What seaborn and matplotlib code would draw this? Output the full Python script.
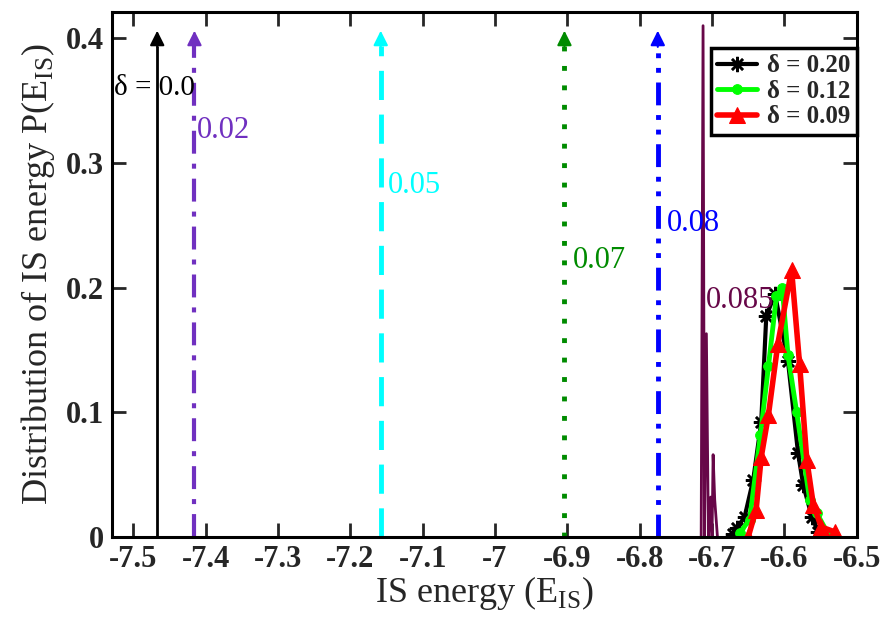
"""IS energy distributions for several delta values"""
import matplotlib
matplotlib.use("Agg")
import matplotlib.pyplot as plt
import seaborn as sns

# peak distributions
x_020 = [-6.671, -6.666, -6.655, -6.643, -6.632, -6.625, -6.613, -6.595, -6.581, -6.574, -6.562, -6.553]
y_020 = [0.002, 0.007, 0.016, 0.046, 0.092, 0.177, 0.195, 0.141, 0.067, 0.042, 0.016, 0.004]

x_012 = [-6.662, -6.648, -6.633, -6.622, -6.611, -6.603, -6.595, -6.583, -6.565, -6.555, -6.539, -6.534]
y_012 = [0.003, 0.014, 0.082, 0.137, 0.193, 0.200, 0.146, 0.100, 0.030, 0.019, 0.002, 0.0]

x_009 = [-6.650, -6.639, -6.632, -6.622, -6.609, -6.590, -6.579, -6.569, -6.560, -6.549, -6.530]
y_009 = [0.0, 0.022, 0.064, 0.098, 0.155, 0.214, 0.139, 0.062, 0.026, 0.008, 0.004]

# delta = 0.085 : narrow spikes
x_0085 = [-6.7150, -6.7124, -6.7105, -6.7078, -6.7050, -6.7018, -6.7000, -6.6985, -6.6963, -6.6925]
y_0085 = [0.0, 0.410, 0.0, 0.163, 0.0, 0.032, 0.0, 0.066, 0.030, 0.0]

# arrows for the sharp (delta-like) distributions
arrow_pos = [-7.467, -7.4155, -7.158, -6.904, -6.775]
arrow_top = 0.406
arrow_colors = ["black", "#7030c0", "#00ffff", "#008b00", "#0000ff"]
arrow_styles = ["-", (0, (5.5, 2.4, 1.2, 2.4)), (0, (6, 3)), (0, (1, 3)),
                (0, (4.7, 2, 1, 2, 1, 2))]
arrow_widths = [2.0, 3.0, 3.5, 3.5, 3.5]

label_text = ["δ = 0.0", "0.02", "0.05", "0.07", "0.08", "0.085"]
label_x = [-7.527, -7.412, -7.148, -6.892, -6.762, -6.708]
label_y = [0.360, 0.326, 0.282, 0.222, 0.251, 0.190]
label_colors = ["black", "#7030c0", "#00ffff", "#008b00", "#0000ff", "#670748"]

xticks = [-7.5, -7.4, -7.3, -7.2, -7.1, -7.0, -6.9, -6.8, -6.7, -6.6, -6.5]
xtick_labels = ["-7.5", "-7.4", "-7.3", "-7.2", "-7.1", "-7", "-6.9", "-6.8", "-6.7", "-6.6", "-6.5"]
yticks = [0, 0.1, 0.2, 0.3, 0.4]
ytick_labels = ["0", "0.1", "0.2", "0.3", "0.4"]

sns.set_style("white")
plt.rcParams["font.family"] = ["Liberation Serif", "DejaVu Serif"]
plt.rcParams["mathtext.fontset"] = "custom"
plt.rcParams["mathtext.rm"] = "Liberation Serif"

fig = plt.figure(figsize=(8.91, 6.21), dpi=100)
ax = fig.add_axes([0.1257, 0.1353, 0.8358, 0.8454])

# vertical arrows
for xp, c, ls, lw in zip(arrow_pos, arrow_colors, arrow_styles, arrow_widths):
    ax.plot([xp, xp], [0, arrow_top - 0.012], color=c, lw=lw, ls=ls, solid_capstyle="butt")
    ax.annotate("", xy=(xp, arrow_top), xytext=(xp, arrow_top - 0.013),
                arrowprops=dict(arrowstyle="-|>", color=c, lw=1.5,
                                mutation_scale=22, shrinkA=0, shrinkB=0))

sns.lineplot(x=x_0085, y=y_0085, color="#670748", lw=2.0, ax=ax, sort=False)

sns.lineplot(x=x_020, y=y_020, color="black", lw=3.0, marker=(8, 2, 0),
             markersize=11, markeredgewidth=1.8, markeredgecolor="black",
             ax=ax, label="δ = 0.20")
sns.lineplot(x=x_012, y=y_012, color="#00ff00", lw=3.5, marker="o",
             markersize=7, markeredgecolor="#00ff00", ax=ax, label="δ = 0.12")
sns.lineplot(x=x_009, y=y_009, color="#ff0000", lw=4.0, marker="^",
             markersize=11, markeredgecolor="#ff0000", ax=ax, label="δ = 0.09")

for t, xt, yt, c in zip(label_text, label_x, label_y, label_colors):
    ax.text(xt, yt, t, color=c, fontsize=21 if t.startswith("δ") else 22,
            va="center", ha="left")

ax.set_xlim(-7.5295, -6.5)
ax.set_ylim(0, 0.421)
ax.set_xticks(xticks)
ax.set_xticklabels(xtick_labels, fontsize=22, fontweight="bold")
ax.set_yticks(yticks)
ax.set_yticklabels(ytick_labels, fontsize=22, fontweight="bold")
ax.tick_params(direction="in", length=10, width=2, top=True, right=True,
               bottom=True, left=True, pad=6)
for sp in ax.spines.values():
    sp.set_linewidth(2.2)
    sp.set_color("black")

ax.set_xlabel("IS energy (E$_{\\mathrm{IS}}$)", fontsize=26, labelpad=0)
ax.set_ylabel("Distribution of IS energy P(E$_{\\mathrm{IS}}$)", fontsize=26, labelpad=6)

leg = ax.legend(loc="upper right", bbox_to_anchor=(1.0, 0.931), borderaxespad=0.0,
                fancybox=False, framealpha=1, edgecolor="black", handlelength=1.6,
                handletextpad=0.4, labelspacing=0.1, borderpad=0.25,
                prop={"family": "Liberation Serif", "weight": "bold", "size": 18})
leg.get_frame().set_linewidth(2.5)

fig.savefig("out.png", dpi=100)
